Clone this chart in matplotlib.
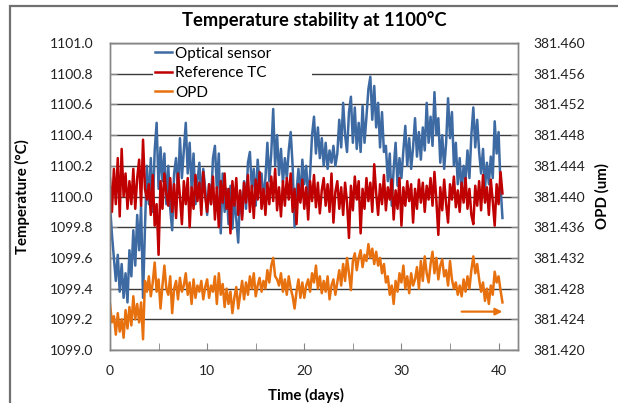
import numpy as np
import matplotlib
matplotlib.use("Agg")
import matplotlib.pyplot as plt
from matplotlib.ticker import MultipleLocator, FormatStrFormatter
from matplotlib.patches import Rectangle

plt.rcParams["font.family"] = ["Lato", "DejaVu Sans"]

# one reading every 0.2 day
step_days = 0.2

# optical sensor, hundredths of a degree above/below 1100 C
optical_dev = [
    -5, -25, -40, -55, -38, -62, -44, -66, -50, -69,
    -35, -52, -22, -45, -12, -35, -6, -66, -20, 20,
    -5, 25, -10, 30, 48, 5, 32, 10, 28, -5,
    20, -8, -22, 15, 25, 2, 38, 12, 30, 48,
    15, 35, 5, 28, -5, 10, 22, -2, 18, 5,
    -12, 8, -5, 25, 33, 5, 28, -24, 15, -10,
    5, -18, 7, -21, 0, -15, -30, 3, -12, 10,
    -8, 22, 29, 5, 18, -6, 24, 8, 15, -3,
    12, 35, 10, 28, 57, 20, 40, 14, 31, 9,
    25, 12, 30, 42, 20, -20, 3, 18, -2, 24,
    8, 20, -2, 15, 40, 52, 28, 45, 25, 38,
    20, 35, 18, 30, 22, 33, 20, 28, 50, 32,
    61, 40, 29, 55, 65, 35, 58, 31, 48, 29,
    59, 35, 52, 70, 78, 50, 72, 45, 61, 32,
    55, 29, 33, 10, 28, -6, 18, 35, 7, 25,
    12, 30, 46, 20, 38, 18, 32, 51, 26, 42,
    24, 45, 30, 61, 35, 52, 33, 68, 40, 51,
    22, 40, 18, 35, 64, 38, 55, 20, 35, 8,
    25, 3, 20, 10, 30, 12, 40, 58, 32, 50,
    29, 15, 31, 5, 22, 8, 26, 12, 49, 28,
    42, 7, -14,
]

# reference thermocouple, hundredths of a degree above/below 1100 C
reference_dev = [
    12, -10, 18, -5, 25, -13, 31, 0, 15, -8,
    10, -5, 18, -8, 12, 24, -6, 37, 5, -2,
    8, -12, 14, -19, -5, -38, 10, -8, 15, 2,
    -6, 12, -10, 8, -14, 15, 0, -18, 10, -5,
    12, -20, 6, -8, 14, -3, 9, -12, 16, 0,
    -10, 8, -5, 13, -15, 6, -20, 10, -4, 15,
    -8, 5, -24, 10, -6, 12, -12, 4, -15, 9,
    -4, 14, -10, 7, -14, 11, -2, 16, -8, 5,
    -12, 9, -5, 13, -3, 18, -9, 6, -13, 10,
    -6, 12, -2, 15, -10, 5, -18, 8, -4, 11,
    -8, 6, -15, 10, -3, 14, -7, 9, -11, 4,
    12, -6, 8, -10, 15, -17, 3, 10, -8, 6,
    -12, 9, -4, -27, 7, -9, 13, -2, 10, -24,
    5, -8, 12, -3, 9, -10, 21, 2, -12, 8,
    -5, 14, -9, 6, -2, 11, -15, 4, -8, 12,
    -19, 6, -6, 10, -3, 8, -17, 5, -8, 11,
    -4, 9, -10, 7, -2, 12, -6, 16, -3, -25,
    6, -9, 11, -5, -17, 8, -2, 13, -7, 4,
    -10, 9, -4, 12, -8, 5, -12, -18, 7, -6,
    10, -9, 14, -4, 6, -12, 11, -3, -19, 8,
    -5, 16, 2,
]

# OPD, nm above 381.420 um
opd_nm = [
    6.0, 3.6, 4.4, 2.0, 4.8, 2.4, 4.0, 1.6, 5.2, 2.8,
    5.6, 3.2, 7.0, 4.0, 6.0, 3.6, 6.2, 1.4, 9.0, 7.6,
    9.6, 7.0, 8.8, 11.4, 7.6, 9.2, 5.4, 8.4, 11.0, 8.0,
    7.2, 9.6, 4.8, 8.0, 9.0, 6.6, 9.4, 7.6, 8.4, 10.0,
    7.2, 8.8, 6.0, 9.2, 6.8, 8.4, 7.6, 9.0, 6.6, 8.2,
    9.2, 6.8, 8.4, 7.6, 9.6, 6.0, 10.0, 7.2, 8.6, 5.6,
    8.0, 6.0, 7.6, 4.8, 6.8, 8.2, 5.4, 7.2, 9.0, 6.6,
    8.8, 7.2, 9.6, 8.0, 10.0, 7.0, 8.4, 9.4, 7.6, 9.0,
    8.0, 10.4, 8.8, 11.0, 12.0, 9.6, 9.2, 8.4, 10.0, 7.6,
    9.2, 7.2, 9.6, 8.0, 7.0, 5.4, 7.6, 9.2, 6.8, 8.8,
    6.8, 8.4, 9.2, 7.6, 10.0, 8.8, 11.0, 8.0, 9.6, 7.4,
    9.0, 7.6, 9.6, 6.6, 8.4, 9.2, 7.2, 8.8, 10.4, 8.4,
    11.2, 9.0, 12.0, 10.0, 7.8, 11.6, 12.6, 10.4, 12.0, 13.0,
    10.8, 12.4, 11.6, 13.8, 12.0, 13.2, 11.2, 12.8, 11.0, 12.0,
    10.0, 11.2, 8.8, 9.6, 7.2, 8.4, 6.0, 9.0, 7.6, 10.0,
    8.8, 11.0, 8.0, 9.6, 7.4, 10.0, 8.4, 9.2, 10.8, 8.0,
    11.6, 9.0, 12.2, 10.0, 8.8, 11.2, 12.8, 10.0, 12.0, 9.2,
    11.0, 11.8, 9.6, 10.4, 8.4, 11.6, 9.2, 8.0, 8.8, 7.2,
    8.4, 7.0, 9.2, 7.6, 9.6, 8.0, 10.4, 12.2, 10.0, 11.2,
    9.2, 7.6, 8.8, 6.4, 8.0, 6.0, 8.4, 7.2, 10.2, 8.8,
    9.6, 7.8, 6.2,
]

# arrow pointing at the right-hand (OPD) axis
arrow_days = (36.2, 40.4)
arrow_opd = 381.425

days = np.arange(len(optical_dev)) * step_days
optical = 1100 + np.array(optical_dev) / 100
reference = 1100 + np.array(reference_dev) / 100
opd = 381.420 + np.array(opd_nm) / 1000

c_blue = "#3D6AA2"
c_red = "#C00000"
c_orange = "#E8710F"

fig = plt.figure(figsize=(6.18, 4.03), dpi=100)
ax = fig.add_axes([110 / 618, 1 - 350 / 403, 408 / 618, 307 / 403])
ax2 = ax.twinx()

l1, = ax.plot(days, optical, color=c_blue, lw=1.8, label="Optical sensor")
l2, = ax.plot(days, reference, color=c_red, lw=1.8, label="Reference TC")
l3, = ax2.plot(days, opd, color=c_orange, lw=1.8, label="OPD")
ax2.annotate("", xy=(arrow_days[1], arrow_opd), xytext=(arrow_days[0], arrow_opd),
             arrowprops=dict(arrowstyle="-|>", color=c_orange, lw=1.6,
                             mutation_scale=10, shrinkA=0, shrinkB=0))

ax.set_xlim(0, 42)
ax.set_ylim(1099.0, 1101.0)
ax2.set_ylim(381.420, 381.460)
ax.xaxis.set_major_locator(MultipleLocator(10))
ax.xaxis.set_minor_locator(MultipleLocator(5))
ax.yaxis.set_major_locator(MultipleLocator(0.2))
ax2.yaxis.set_major_locator(MultipleLocator(0.004))
ax.yaxis.set_major_formatter(FormatStrFormatter("%.1f"))
ax2.yaxis.set_major_formatter(FormatStrFormatter("%.3f"))

ax.grid(axis="y", color="#3a3a3a", lw=1.0)
ax.set_axisbelow(True)
for a in (ax, ax2):
    for s in a.spines.values():
        s.set_color("#868686")
        s.set_linewidth(1.0)
ax.tick_params(axis="both", which="both", direction="in", colors="#868686",
               labelcolor="#222222", labelsize=10)
ax.tick_params(axis="x", which="major", length=5, pad=11)
ax.tick_params(axis="x", which="minor", length=5)
ax.tick_params(axis="y", length=5, pad=12)
ax2.tick_params(axis="y", direction="in", length=5, colors="#868686",
                labelcolor="#222222", labelsize=10, pad=11)

ax.set_title("Temperature stability at 1100°C", fontsize=13.2, fontweight="bold", pad=12)
ax.set_xlabel("Time (days)", fontsize=10.8, fontweight="bold")
ax.set_ylabel("Temperature (°C)", fontsize=10.8, fontweight="bold")
ax2.set_ylabel("OPD (um)", fontsize=10.8, fontweight="bold")
ax.xaxis.set_label_coords(0.48, -0.125)
ax.yaxis.set_label_coords(-0.195, 0.5)
ax2.yaxis.set_label_coords(1.19, 0.5)

leg = ax2.legend(handles=[l1, l2, l3], loc="upper left", mode="expand",
                 bbox_to_anchor=(0.105, 0.81, 0.39, 0.185), fontsize=11,
                 frameon=True, fancybox=False, handlelength=1.1, handletextpad=0.2,
                 labelspacing=0.35, borderpad=0.15, borderaxespad=0)
leg.get_frame().set_facecolor("white")
leg.get_frame().set_edgecolor("none")
leg.get_frame().set_alpha(1.0)

# outer chart border (left and top edges visible)
fig.patches.append(Rectangle((10 / 618, -0.1), 1.2, 1 - 6 / 403 + 0.1,
                             transform=fig.transFigure, fill=False,
                             edgecolor="#707070", lw=1.6))

fig.savefig("out.png", dpi=100)
